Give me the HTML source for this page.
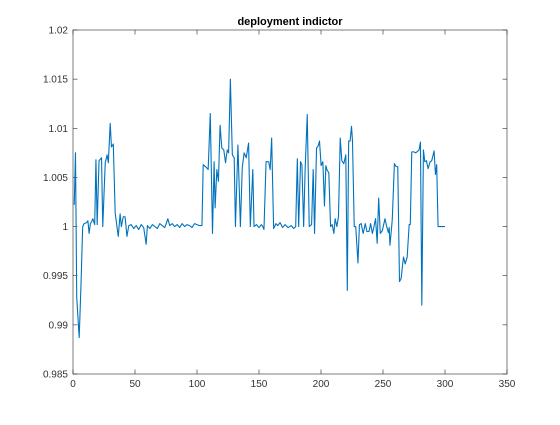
<!DOCTYPE html>
<html><head><meta charset="utf-8"><style>
body{margin:0;background:#fff;}
svg text{font-family:"Liberation Sans",sans-serif;}
</style></head><body>
<svg id="chart" width="560" height="420" viewBox="0 0 560 420" xmlns="http://www.w3.org/2000/svg">
<rect x="0" y="0" width="560" height="420" fill="#fff"/>
<g id="axes"></g>
<text x="290" y="25" text-anchor="middle" font-size="11" font-weight="bold" fill="#000">deployment indictor</text>
</svg>
<script>
const xTicks=[0,50,100,150,200,250,300,350];
const yTicks=[0.985,0.99,0.995,1,1.005,1.01,1.015,1.02];
const yTickLabels=["0.985","0.99","0.995","1","1.005","1.01","1.015","1.02"];
const seriesX=[1,2,3,5,6.5,7.8,9,11,12,13,14,15,16,17.5,18.5,19.5,21,23,24,26,27.5,28.5,30,31,32.5,34,36.5,38,39,40.5,42,43.5,45,47,49,51,53,55,57,59,60,62,64,66,68,70,72,74,76.5,78,80,82,84,86,88,90,92,94,96,98,100,102,104,105,107.7,109,110.7,112.5,113.8,114.6,116,117.3,118.6,120,121.6,123,124.4,125.5,126.9,128.5,130,131,133,135,136.5,138,139.7,141.6,143,145,146,148,150,152,153,154,155.7,157.8,159,160.2,161.8,163.7,165,167,169,171,173.5,176,178,179.6,180.9,182,183.5,184.6,186,187.2,188.9,190.5,192.4,193.7,194.8,196.4,197.7,198.8,200.1,201.5,202.8,203.9,205,206.3,207.7,209,210.4,211.4,212.8,214.1,215.5,216.8,218.4,220,221.2,222.3,223.5,224.6,225.4,226.8,228,229.8,231,232.4,234,235.7,237,238.7,240,241.4,242.7,244,245.3,246.5,247.8,249.5,251.6,253,254.3,255,255.6,257,257.5,259.2,260.6,261.9,263.3,264.6,266.5,267.9,269.5,271.1,272,273.2,275,276.4,279.1,280.2,281.3,282.6,283.7,285,286.4,288,289.3,291.2,292.3,293.3,294.4,300];
const seriesY=[1.0022,1.0075,0.9928,0.9887,0.9943,1.0,1.0003,1.0004,1.0006,0.9993,1.0003,1.0005,1.0008,1.0002,1.0068,1.0002,1.0067,1.007,1.0,1.0065,1.0073,1.0065,1.0105,1.0081,1.0084,1.0014,0.999,1.0013,1.0,1.001,1.001,0.999,1.0001,1.0002,0.9998,1.0001,0.9997,1.0002,0.9999,0.9982,1.0001,0.9998,1.0002,1.0,0.9998,1.0003,1.0001,0.9999,1.0008,1.0001,1.0003,1.0,1.0002,0.9999,1.0003,1.0,1.0002,1.0001,0.9999,1.0003,1.0002,1.0001,1.0001,1.0063,1.006,1.0058,1.0115,0.9993,1.0066,1.0019,1.0058,1.0046,1.0103,1.008,1.0078,1.0065,1.0078,1.0075,1.015,1.0073,1.007,1.0,1.0083,1.0,1.006,1.0075,1.007,1.0085,1.0,1.0058,1.0,1.0002,0.9999,1.0002,1.0,0.9997,1.0066,1.0066,1.0058,1.009,0.9998,1.0003,1.0001,1.0004,0.9999,1.0002,0.9999,1.0001,0.9998,1.0,1.0069,1.0,1.0066,1.0063,1.0,1.0058,1.0114,1.0,1.0002,1.0058,0.9993,1.008,1.0082,1.0087,1.0062,1.0066,1.0021,1.0062,1.0057,1.0055,1.0,1.0002,0.9993,1.0008,1.0,1.001,1.009,1.0067,1.0064,1.0073,0.9935,1.0087,1.0087,1.0102,1.0087,1.0,1.0,0.9963,1.0002,1.0003,0.9993,1.0003,0.9995,0.9995,1.0003,0.9993,1.0,1.0008,0.9983,1.0029,0.9993,0.9996,1.0008,1.0,0.9994,0.9999,0.9981,1.0,1.0008,1.0064,1.0061,1.0061,0.9944,0.9947,0.9969,0.9962,0.9969,1.0002,1.0002,1.0076,1.0076,1.0075,1.0078,1.0086,0.992,1.0078,1.0066,1.0067,1.0059,1.0066,1.0067,1.0077,1.0053,1.0063,1.0,1.0];
const L=73,R=507,T=30,B=374;
const xMin=0,xMax=350,yMin=0.985,yMax=1.02;
const sx=v=>L+(v-xMin)/(xMax-xMin)*(R-L);
const sy=v=>B-(v-yMin)/(yMax-yMin)*(B-T);
const NS="http://www.w3.org/2000/svg";
const g=document.getElementById('axes');
function mk(tag,attrs){const e=document.createElementNS(NS,tag);for(const k in attrs)e.setAttribute(k,attrs[k]);g.appendChild(e);return e;}
const box=mk('rect',{x:L,y:T,width:R-L,height:B-T,fill:'#fff',stroke:'#262626','stroke-width':0.6});


xTicks.forEach(t=>{
  const x=sx(t);
  const a=mk('line',{x1:x,x2:x,y1:B,y2:B-4.5,stroke:'#262626','stroke-width':0.6});
  
  
  const b=mk('line',{x1:x,x2:x,y1:T,y2:T+4.5,stroke:'#262626','stroke-width':0.6});
  
  
  const tx=mk('text',{x:x,y:B+13,'text-anchor':'middle','font-size':10,fill:'#333'});
  tx.textContent=String(t);
  
  
});
yTicks.forEach((t,i)=>{
  const y=sy(t);
  const a=mk('line',{x1:L,x2:L+4.5,y1:y,y2:y,stroke:'#262626','stroke-width':0.6});
  
  
  const b=mk('line',{x1:R,x2:R-4.5,y1:y,y2:y,stroke:'#262626','stroke-width':0.6});
  
  
  const tx=mk('text',{x:L-5,y:y+3.5,'text-anchor':'end','font-size':10,fill:'#333'});
  tx.textContent=yTickLabels[i];
  
  
});
const pts=seriesX.map((x,i)=>sx(x).toFixed(2)+','+sy(seriesY[i]).toFixed(2)).join(' ');
const line=mk('polyline',{points:pts,fill:'none',stroke:'#0072BD','stroke-width':1.1,'stroke-linejoin':'round'});


</script>
</body></html>
